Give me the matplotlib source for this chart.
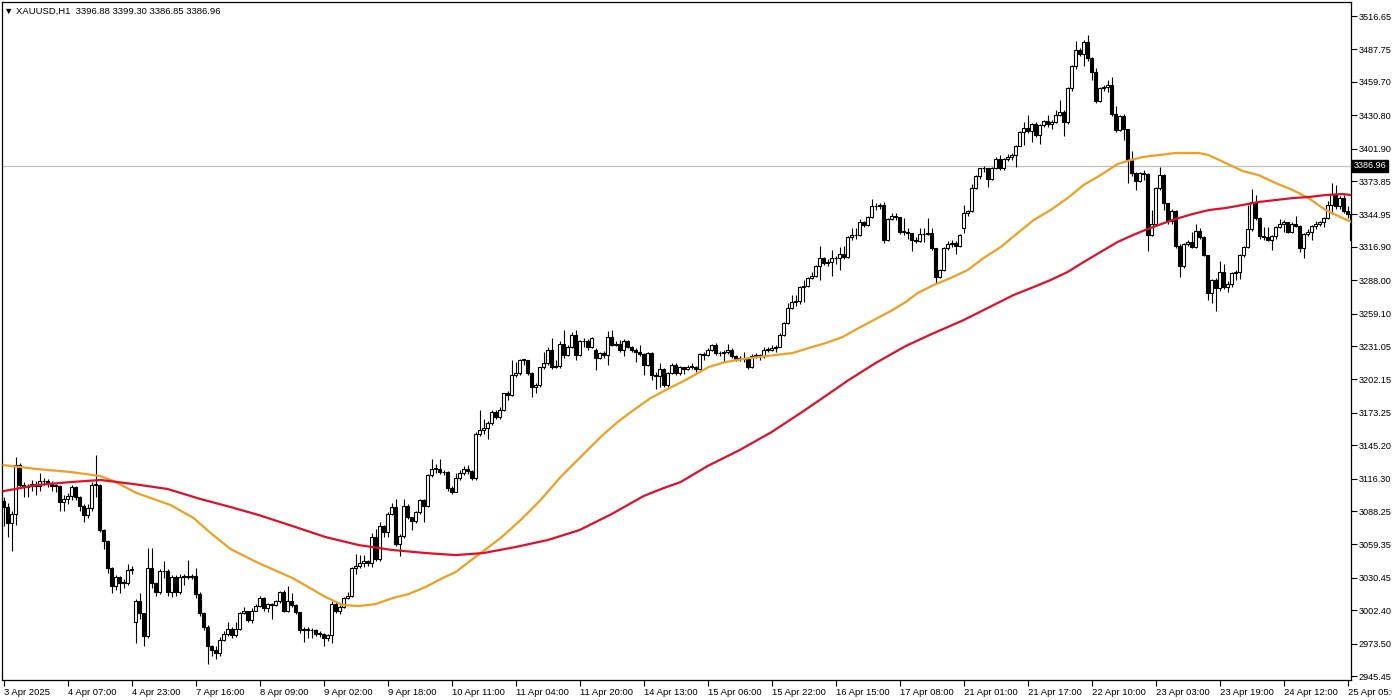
import matplotlib
matplotlib.use("Agg")
import matplotlib.pyplot as plt
import numpy as np

plt.rcParams['font.family'] = ['Liberation Sans', 'DejaVu Sans']

# XAUUSD H1 bars (opens = previous close, except first bar and gap bars)
closes = [
    3092, 3078, 3086, 3128, 3111, 3109, 3110, 3112, 3110, 3114, 3114, 3112, 3110, 3110, 3096, 3099,
    3101, 3109, 3100, 3093, 3085, 3091, 3111, 3111, 3072, 3062, 3039, 3023, 3031, 3026, 3026, 3037,
    3038, 3010, 3000, 2980, 3039, 3026, 3018, 3036, 3036, 3018, 3031, 3018, 3031, 3032, 3031, 3032,
    3016, 3000, 2988, 2971, 2968, 2965, 2977, 2982, 2986, 2981, 2986, 3000, 3002, 2994, 3002, 3006,
    3013, 3004, 3008, 3007, 3010, 3018, 3002, 3010, 3007, 3001, 2985, 2986, 2985, 2985, 2982, 2982,
    2978, 2981, 3008, 3002, 3005, 3013, 3015, 3039, 3041, 3043, 3045, 3043, 3066, 3047, 3075, 3070,
    3086, 3092, 3060, 3067, 3093, 3083, 3080, 3087, 3098, 3093, 3119, 3125, 3125, 3122, 3122, 3108,
    3105, 3117, 3121, 3125, 3123, 3117, 3155, 3158, 3160, 3164, 3174, 3170, 3176, 3190, 3189, 3206,
    3208, 3219, 3219, 3208, 3196, 3197, 3213, 3216, 3228, 3213, 3214, 3233, 3223, 3230, 3241, 3223,
    3235, 3235, 3230, 3238, 3221, 3225, 3223, 3239, 3232, 3233, 3228, 3235, 3230, 3228, 3226, 3224,
    3215, 3225, 3206, 3205, 3211, 3197, 3208, 3215, 3208, 3213, 3211, 3213, 3213, 3211, 3224, 3223,
    3228, 3232, 3225, 3225, 3226, 3228, 3222, 3220, 3220, 3221, 3213, 3222, 3223, 3222, 3228, 3228,
    3229, 3230, 3241, 3251, 3264, 3269, 3270, 3282, 3283, 3290, 3292, 3300, 3307, 3303, 3304, 3307,
    3307, 3311, 3308, 3325, 3327, 3327, 3338, 3336, 3343, 3352, 3352, 3353, 3323, 3341, 3344, 3343,
    3330, 3330, 3329, 3323, 3322, 3328, 3328, 3329, 3316, 3291, 3297, 3316, 3319, 3320, 3318, 3327,
    3346, 3348, 3368, 3378, 3385, 3385, 3376, 3385, 3393, 3385, 3393, 3395, 3396, 3404, 3416, 3420,
    3417, 3423, 3414, 3422, 3426, 3423, 3425, 3431, 3434, 3425, 3454, 3473, 3487, 3484, 3494, 3480,
    3468, 3443, 3454, 3455, 3457, 3432, 3418, 3430, 3419, 3392, 3381, 3374, 3381, 3380, 3327, 3337,
    3368, 3379, 3355, 3339, 3348, 3318, 3300, 3319, 3321, 3317, 3331, 3325, 3310, 3277, 3288, 3281,
    3295, 3282, 3285, 3294, 3295, 3310, 3317, 3332, 3356, 3342, 3326, 3325, 3323, 3326, 3334, 3337,
    3338, 3330, 3337, 3335, 3316, 3328, 3330, 3335, 3337, 3338, 3342, 3353, 3363, 3352, 3359, 3348,
    3345, 3323,
]
highs = [
    3100, 3095, 3088, 3135, 3130, 3113, 3112, 3115, 3114, 3121, 3117, 3116, 3114, 3112, 3111, 3102,
    3104, 3111, 3110, 3101, 3094, 3094, 3113, 3137, 3112, 3073, 3063, 3040, 3033, 3032, 3029, 3042,
    3041, 3012, 3017, 3000, 3056, 3056, 3027, 3038, 3045, 3038, 3033, 3033, 3034, 3034, 3046, 3034,
    3039, 3018, 3001, 2990, 2972, 2971, 2979, 2984, 2992, 2988, 2992, 3001, 3005, 3002, 3004, 3008,
    3015, 3014, 3009, 3009, 3011, 3019, 3020, 3023, 3017, 3008, 3001, 2988, 2988, 2987, 2986, 2984,
    2983, 2982, 3010, 3010, 3007, 3014, 3018, 3040, 3051, 3050, 3050, 3046, 3069, 3073, 3079, 3076,
    3087, 3095, 3099, 3068, 3099, 3094, 3083, 3088, 3099, 3099, 3120, 3133, 3129, 3133, 3124, 3123,
    3110, 3121, 3124, 3127, 3128, 3124, 3157, 3176, 3168, 3166, 3176, 3176, 3178, 3190, 3192, 3219,
    3217, 3220, 3220, 3219, 3209, 3199, 3213, 3226, 3230, 3238, 3219, 3235, 3245, 3232, 3243, 3245,
    3236, 3238, 3237, 3239, 3229, 3226, 3227, 3244, 3245, 3235, 3236, 3237, 3236, 3231, 3229, 3232,
    3225, 3226, 3226, 3209, 3216, 3212, 3209, 3216, 3216, 3214, 3213, 3215, 3216, 3214, 3225, 3226,
    3229, 3233, 3234, 3227, 3228, 3233, 3229, 3223, 3222, 3226, 3221, 3224, 3225, 3224, 3230, 3230,
    3232, 3232, 3242, 3252, 3268, 3275, 3275, 3283, 3288, 3291, 3295, 3301, 3318, 3308, 3306, 3314,
    3309, 3317, 3318, 3326, 3333, 3333, 3341, 3339, 3344, 3358, 3355, 3355, 3356, 3342, 3346, 3346,
    3342, 3342, 3333, 3329, 3325, 3333, 3333, 3342, 3333, 3316, 3298, 3317, 3322, 3323, 3322, 3328,
    3353, 3349, 3371, 3379, 3385, 3387, 3383, 3386, 3395, 3396, 3394, 3397, 3398, 3405, 3417, 3425,
    3431, 3424, 3425, 3423, 3427, 3431, 3427, 3435, 3444, 3435, 3455, 3474, 3495, 3489, 3496, 3500,
    3481, 3472, 3455, 3457, 3461, 3464, 3439, 3431, 3432, 3419, 3400, 3382, 3382, 3383, 3381, 3349,
    3369, 3386, 3380, 3355, 3350, 3349, 3319, 3320, 3323, 3330, 3337, 3333, 3326, 3310, 3289, 3290,
    3305, 3302, 3287, 3295, 3297, 3311, 3318, 3353, 3367, 3362, 3343, 3334, 3334, 3327, 3335, 3341,
    3340, 3338, 3338, 3344, 3336, 3329, 3332, 3336, 3339, 3339, 3343, 3357, 3372, 3370, 3361, 3362,
    3352, 3346,
]
lows = [
    3075, 3066, 3054, 3076, 3108, 3100, 3100, 3106, 3102, 3106, 3111, 3109, 3106, 3105, 3088, 3088,
    3094, 3098, 3098, 3088, 3079, 3082, 3088, 3100, 3070, 3055, 3035, 3017, 3020, 3017, 3022, 3024,
    3034, 2974, 2995, 2971, 2978, 3022, 3015, 3016, 3030, 3015, 3014, 3015, 3016, 3024, 3029, 3029,
    3013, 2997, 2985, 2956, 2963, 2960, 2963, 2976, 2980, 2978, 2979, 2985, 2999, 2992, 2991, 3002,
    3005, 3002, 3001, 2995, 3006, 3009, 3001, 3001, 3005, 2999, 2983, 2975, 2978, 2978, 2980, 2979,
    2971, 2976, 2974, 3000, 2999, 3004, 3012, 3014, 3034, 3039, 3040, 3041, 3040, 3045, 3045, 3066,
    3066, 3085, 3058, 3049, 3065, 3081, 3072, 3078, 3086, 3079, 3092, 3118, 3121, 3120, 3119, 3106,
    3103, 3105, 3115, 3119, 3120, 3115, 3115, 3153, 3155, 3151, 3163, 3168, 3168, 3175, 3184, 3188,
    3204, 3206, 3215, 3206, 3187, 3190, 3196, 3211, 3215, 3211, 3212, 3212, 3221, 3222, 3229, 3219,
    3222, 3230, 3228, 3229, 3210, 3220, 3221, 3215, 3231, 3231, 3226, 3222, 3229, 3226, 3217, 3222,
    3206, 3214, 3202, 3194, 3196, 3196, 3196, 3207, 3206, 3206, 3207, 3210, 3211, 3209, 3210, 3219,
    3222, 3227, 3223, 3222, 3217, 3224, 3221, 3218, 3218, 3217, 3211, 3212, 3221, 3219, 3221, 3226,
    3227, 3226, 3230, 3240, 3250, 3263, 3266, 3267, 3269, 3282, 3289, 3291, 3288, 3301, 3300, 3292,
    3302, 3297, 3306, 3307, 3323, 3324, 3326, 3334, 3335, 3342, 3349, 3350, 3320, 3322, 3340, 3340,
    3328, 3327, 3324, 3313, 3320, 3321, 3321, 3327, 3314, 3285, 3290, 3296, 3314, 3317, 3311, 3317,
    3329, 3344, 3347, 3367, 3376, 3382, 3369, 3375, 3384, 3383, 3383, 3391, 3392, 3386, 3404, 3405,
    3415, 3408, 3412, 3406, 3421, 3421, 3419, 3424, 3430, 3413, 3423, 3452, 3471, 3482, 3473, 3478,
    3461, 3441, 3442, 3452, 3451, 3430, 3416, 3417, 3409, 3372, 3378, 3366, 3373, 3375, 3313, 3326,
    3335, 3366, 3349, 3337, 3337, 3316, 3291, 3299, 3318, 3316, 3316, 3324, 3309, 3271, 3268, 3261,
    3279, 3280, 3278, 3282, 3288, 3289, 3308, 3316, 3331, 3340, 3324, 3323, 3322, 3314, 3324, 3333,
    3330, 3329, 3329, 3334, 3312, 3307, 3326, 3323, 3332, 3335, 3334, 3341, 3345, 3350, 3350, 3346,
    3342, 3320,
]
first_open = 3097
gap_opens = {33: 2992, 148: 3228, 240: 3333}

# moving averages (bar position, price)
orange_bars = [0, 8.25, 16.75, 24.25, 27.5, 33.25, 41.75, 47.5, 51.75, 56.75, 63.75, 72.25, 80.5,
               84.75, 88.75, 93, 97.25, 101.25, 105.5, 109.75, 113, 119.25, 124.25, 129.25,
               134.25, 139.25, 144.25, 149.25, 153.5, 157.5, 161.75, 166, 170.5, 176.25, 180.5,
               184.75, 188.75, 193, 197.25, 201.25, 205.5, 209.75, 213.75, 218, 222.25, 225.5,
               228.5, 232.5, 236.75, 241, 245, 249.25, 253.5, 257.5, 261.75, 266, 270, 274.25,
               278.5, 281.75, 284.75, 288.75, 293, 298.75, 301.25, 305.5, 309.75, 313.75, 318,
               322.25, 326.25, 330.5, 334.75, 337]
orange_vals = [3128.0, 3124.6, 3122.0, 3118.5, 3114.2, 3103.8, 3093.4, 3082.2, 3069.2, 3055.3,
               3043.2, 3030.2, 3013.8, 3006.9, 3006.0, 3007.7, 3012.9, 3016.4, 3022.5, 3030.2,
               3035.4, 3051.9, 3064.9, 3080.4, 3097.8, 3117.7, 3135.0, 3152.3, 3165.3, 3175.6,
               3186.0, 3193.8, 3201.6, 3212.9, 3217.2, 3219.8, 3221.5, 3223.3, 3225.0, 3229.3,
               3233.6, 3238.8, 3246.6, 3254.4, 3262.2, 3269.1, 3276.9, 3283.8, 3289.9, 3296.8,
               3307.2, 3316.7, 3328.8, 3340.1, 3348.7, 3359.1, 3370.4, 3379.0, 3388.6, 3392.0,
               3394.6, 3396.3, 3398.1, 3398.1, 3396.3, 3389.4, 3382.5, 3379.0, 3372.1, 3366.1,
               3359.1, 3348.7, 3341.8, 3338.4]
red_bars = [0, 8.25, 16.75, 24.25, 32.5, 41, 49.25, 56.75, 63.75, 72.25, 80.5, 88.75, 97.25,
            105.5, 113, 120, 128, 136, 144, 152, 160, 165, 169.25, 176, 184, 192, 200, 208,
            211.25, 218, 225.5, 232, 240, 248, 252.5, 257.5, 261.75, 266, 270, 274.25, 278.5,
            281.75, 284.75, 288.75, 293, 297.25, 301.25, 305.5, 309.75, 313.75, 318, 322.25,
            326.25, 330.5, 334.75, 337]
red_vals = [3105.5, 3110.7, 3113.3, 3115.1, 3111.6, 3107.3, 3098.6, 3091.7, 3084.8, 3075.2, 3065.7,
            3058.8, 3054.5, 3051.9, 3050.1, 3051.9, 3057.1, 3063.1, 3071.8, 3085.6, 3101.2, 3108.1,
            3113.3, 3127.2, 3141.0, 3156.6, 3174.8, 3193.8, 3201.6, 3216.3, 3231.0, 3241.4, 3253.5,
            3267.4, 3275.2, 3282.1, 3288.2, 3295.1, 3303.7, 3312.4, 3321.1, 3326.2, 3330.6, 3335.8,
            3341.0, 3345.3, 3348.7, 3350.5, 3353.1, 3355.7, 3357.4, 3359.1, 3360.0, 3361.7, 3362.6,
            3361.7]

time_labels = ["3 Apr 2025", "4 Apr 07:00", "4 Apr 23:00", "7 Apr 16:00", "8 Apr 09:00",
               "9 Apr 02:00", "9 Apr 18:00", "10 Apr 11:00", "11 Apr 04:00", "11 Apr 20:00",
               "14 Apr 13:00", "15 Apr 06:00", "15 Apr 22:00", "16 Apr 15:00", "17 Apr 08:00",
               "21 Apr 01:00", "21 Apr 17:00", "22 Apr 10:00", "23 Apr 03:00", "23 Apr 19:00",
               "24 Apr 12:00", "25 Apr 05:00"]
label_step = 16

price_ticks = [3516.65, 3487.75, 3459.70, 3430.80, 3401.90, 3373.85, 3344.95, 3316.90, 3288.00,
               3259.10, 3231.05, 3202.15, 3173.25, 3145.20, 3116.30, 3088.25, 3059.35, 3030.45,
               3002.40, 2973.50, 2945.45]
bid = 3386.96
header = "XAUUSD,H1  3396.88 3399.30 3386.85 3386.96"

# build opens
c = np.array(closes, dtype=float)
h = np.array(highs, dtype=float)
l = np.array(lows, dtype=float)
o = np.empty_like(c)
o[0] = first_open
o[1:] = c[:-1]
for k, v in gap_opens.items():
    o[k] = v
h = np.maximum(h, np.maximum(o, c))
l = np.minimum(l, np.minimum(o, c))
x = np.arange(len(c))

fig = plt.figure(figsize=(13.92, 7), dpi=100)
ax = fig.add_axes([2 / 1392, 20 / 700, 1349 / 1392, 678 / 700])

ax.axhline(bid, color='#c0c0c0', lw=0.9, zorder=0)

ax.vlines(x, l, h, color='black', lw=0.8, zorder=2)
up = c >= o
body_lo = np.minimum(o, c)
body_h = np.maximum(np.abs(c - o), 0.4)
ax.bar(x[up], body_h[up], bottom=body_lo[up], width=0.6, color='white',
       edgecolor='black', lw=0.8, zorder=3)
ax.bar(x[~up], body_h[~up], bottom=body_lo[~up], width=0.6, color='black',
       edgecolor='black', lw=0.8, zorder=3)

ax.plot(orange_bars, orange_vals, color='#F0A020', lw=1.6, zorder=4, solid_joinstyle='round')
ax.plot(red_bars, red_vals, color='#E0102A', lw=1.6, zorder=4, solid_joinstyle='round')

ax.set_xlim(-0.4, 336.85)
ax.set_ylim(2942.0, 3528.8)

for s in ax.spines.values():
    s.set_color('black')
    s.set_linewidth(0.9)

ax.yaxis.tick_right()
ax.set_yticks(price_ticks)
ax.set_yticklabels([f"{p:.2f}" for p in price_ticks])
ax.tick_params(axis='y', direction='out', length=4, width=0.8, labelsize=6.6, pad=1.5,
               colors='black')

ax.set_xticks(np.arange(len(time_labels)) * label_step)
ax.set_xticklabels(time_labels)
for t in ax.get_xticklabels():
    t.set_horizontalalignment('left')
ax.tick_params(axis='x', direction='out', length=4, width=0.8, labelsize=6.8, pad=1.5,
               colors='black')

ax.text(1.002, bid, f"{bid:.2f}", transform=ax.get_yaxis_transform(), color='white',
        fontsize=6.6, va='center', ha='left',
        bbox=dict(facecolor='black', edgecolor='black', pad=1.3), clip_on=False, zorder=6)

fig.text(4 / 1392, 1 - 11 / 700, "\u25bc " + header, fontsize=6.8, va='center', ha='left',
         color='black')

fig.savefig("out.png", dpi=100, facecolor='white')
